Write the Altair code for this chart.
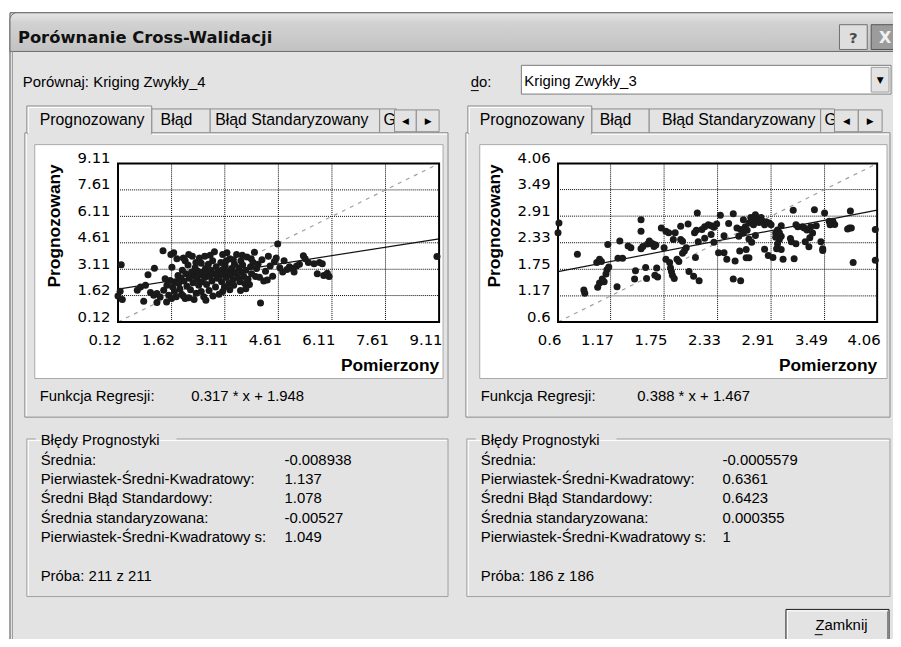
import altair as alt
import pandas as pd

# ---------------- data ----------------
title_text = "Porównanie Cross-Walidacji"
compare_label = "Porównaj:"
to_label = "do:"
left_model = "Kriging Zwykły_4"
right_model = "Kriging Zwykły_3"
tab_names = ["Prognozowany", "Błąd", "Błąd Standaryzowany", "G"]
x_title = "Pomierzony"
y_title = "Prognozowany"
reg_label = "Funkcja Regresji:"
group_label = "Błędy Prognostyki"
close_label = "Zamknij"

left_ticks = [0.12, 1.62, 3.11, 4.61, 6.11, 7.61, 9.11]
right_ticks = [0.6, 1.17, 1.75, 2.33, 2.91, 3.49, 4.06]
left_slope, left_intercept = 0.317, 1.948
right_slope, right_intercept = 0.388, 1.467

stat_names = ["Średnia:", "Pierwiastek-Średni-Kwadratowy:", "Średni Błąd Standardowy:",
              "Średnia standaryzowana:", "Pierwiastek-Średni-Kwadratowy s:"]
left_stats = ["-0.008938", "1.137", "1.078", "-0.00527", "1.049"]
right_stats = ["-0.0005579", "0.6361", "0.6423", "0.000355", "1"]
left_sample = "Próba: 211 z 211"
right_sample = "Próba: 186 z 186"

left_pts = [
    (0.12, 1.60), (0.24, 1.40), (0.21, 3.36), (0.18, 1.86), (0.66, 1.92), (0.75, 2.10),
    (0.89, 2.20), (0.84, 1.30), (0.96, 2.80), (1.14, 3.17), (1.03, 1.79), (1.12, 1.64),
    (1.21, 1.73), (1.21, 1.23), (1.30, 1.54), (1.38, 4.16), (1.40, 1.92), (1.44, 2.57),
    (1.49, 2.20), (1.54, 1.64), (1.48, 1.26), (1.60, 3.95), (1.68, 4.05), (1.77, 3.70),
    (1.63, 3.23), (1.58, 2.48), (1.65, 2.10), (1.72, 2.40), (1.80, 2.75), (1.85, 2.00),
    (1.90, 1.70), (1.95, 1.60), (2.00, 1.45), (1.70, 1.85), (1.62, 1.45), (1.75, 1.55),
    (1.82, 2.30), (1.88, 2.62), (1.92, 3.05), (1.97, 2.45), (2.02, 2.85), (2.05, 2.15),
    (2.08, 3.35), (2.12, 2.60), (2.15, 1.95), (2.18, 2.95), (2.20, 3.85), (2.22, 2.35),
    (2.26, 2.75), (2.28, 3.20), (2.31, 1.75), (2.33, 2.55), (2.36, 3.00), (2.38, 2.20),
    (2.40, 3.75), (2.42, 2.80), (2.45, 3.45), (2.47, 2.40), (2.50, 2.95), (2.52, 1.55),
    (2.55, 2.65), (2.57, 3.15), (2.60, 2.25), (2.62, 2.90), (2.65, 3.40), (2.67, 1.90),
    (2.70, 2.70), (2.72, 3.05), (2.75, 2.45), (2.77, 3.60), (2.80, 2.85), (2.82, 4.10),
    (2.85, 2.10), (2.87, 3.25), (2.90, 2.60), (2.92, 3.00), (2.95, 1.70), (2.97, 2.75),
    (3.00, 3.50), (3.02, 2.40), (3.05, 3.10), (3.07, 2.85), (3.10, 2.10), (3.12, 3.30),
    (3.15, 2.65), (3.17, 4.05), (3.20, 2.95), (3.22, 2.30), (3.25, 3.70), (3.28, 2.80),
    (3.30, 3.15), (3.33, 2.50), (3.36, 2.20), (3.38, 3.40), (3.41, 2.90), (3.44, 3.95),
    (3.47, 2.65), (3.50, 3.20), (3.53, 2.40), (3.56, 3.60), (3.58, 2.95), (3.61, 3.35),
    (3.64, 2.70), (3.67, 2.30), (3.70, 3.05), (3.73, 3.80), (3.76, 2.55), (3.80, 2.24),
    (3.83, 3.25), (3.86, 2.85), (3.90, 3.50), (3.94, 4.07), (3.97, 2.70), (4.00, 3.15),
    (4.04, 3.40), (4.08, 2.66), (4.11, 1.20), (4.15, 3.65), (4.20, 2.45), (4.25, 3.00),
    (4.30, 2.50), (4.33, 3.85), (4.38, 3.30), (4.45, 2.72), (4.50, 3.55), (4.55, 3.75),
    (4.59, 4.54), (4.65, 3.20), (4.73, 2.95), (4.77, 3.60), (4.85, 3.10), (4.92, 3.25),
    (5.00, 3.15), (5.05, 2.95), (5.12, 3.30), (5.20, 3.40), (5.31, 3.88), (5.36, 3.70),
    (5.45, 3.50), (5.61, 3.42), (5.70, 2.86), (5.76, 3.49), (5.84, 3.42), (5.88, 2.76),
    (5.98, 2.88), (6.03, 2.70), (9.05, 3.83),
    (2.10, 1.50), (2.25, 1.40), (2.45, 1.85), (2.58, 1.35), (2.78, 1.60), (3.05, 1.85),
    (3.25, 1.95), (3.55, 1.90), (3.70, 2.00), (2.30, 3.50), (2.55, 3.85), (2.70, 3.90),
    (3.05, 3.95), (3.15, 3.60), (3.35, 3.65), (3.60, 3.90), (3.85, 3.70), (2.00, 3.60),
    (2.10, 3.95), (1.95, 3.75),
]

right_pts = [
    (0.61, 2.76), (0.60, 2.55), (0.81, 2.08), (0.88, 1.30), (0.89, 1.23), (1.02, 1.90),
    (1.05, 1.97), (1.07, 1.92), (1.03, 1.36), (1.05, 1.45), (1.08, 1.54), (1.10, 1.48),
    (1.14, 2.29), (1.13, 1.74), (1.12, 1.65), (1.15, 1.80), (1.24, 1.37), (1.27, 2.37),
    (1.25, 1.99), (1.30, 1.99), (1.36, 2.26), (1.39, 2.22), (1.43, 1.54), (1.44, 1.72),
    (1.50, 2.20), (1.52, 2.25), (1.50, 2.83), (1.50, 2.58), (1.55, 1.79), (1.56, 1.55),
    (1.57, 2.30), (1.59, 2.37), (1.61, 2.32), (1.63, 2.30), (1.64, 2.25), (1.66, 2.28),
    (1.65, 1.62), (1.68, 1.58), (1.67, 1.78), (1.72, 2.65), (1.75, 2.22), (1.77, 2.58),
    (1.80, 2.55), (1.77, 1.97), (1.81, 1.90), (1.82, 1.78), (1.83, 1.70), (1.84, 1.62),
    (1.86, 1.55), (1.85, 2.40), (1.87, 2.55), (1.93, 2.69), (1.93, 2.40), (1.95, 2.36),
    (1.95, 2.10), (1.97, 2.15), (1.99, 2.22), (1.91, 1.92), (1.89, 1.97), (2.01, 2.74),
    (2.02, 1.70), (2.07, 1.60), (2.08, 2.55), (2.10, 2.60), (2.13, 1.50), (2.11, 2.98),
    (2.09, 2.01), (2.12, 2.35), (2.16, 2.62), (2.19, 2.68), (2.23, 2.72), (2.26, 2.70),
    (2.29, 2.67), (2.32, 2.74), (2.36, 2.93), (2.19, 2.43), (2.26, 2.51), (2.29, 2.34),
    (2.34, 2.11), (2.40, 2.11), (2.43, 1.97), (2.40, 2.48), (2.45, 2.75), (2.50, 2.96),
    (2.54, 2.65), (2.56, 2.47), (2.58, 2.62), (2.61, 2.54), (2.50, 1.54), (2.58, 1.50),
    (2.52, 1.93), (2.57, 2.15), (2.61, 2.83), (2.63, 2.68), (2.65, 2.60), (2.67, 2.76),
    (2.69, 2.88), (2.71, 2.79), (2.72, 2.72), (2.74, 2.94), (2.76, 2.83), (2.78, 2.77),
    (2.80, 2.88), (2.82, 2.80), (2.84, 2.72), (2.86, 2.78), (2.64, 2.00), (2.67, 2.00),
    (2.64, 2.18), (2.67, 2.41), (2.70, 2.34), (2.74, 2.49), (2.84, 2.19), (2.89, 2.76),
    (2.91, 2.72), (2.93, 2.01), (2.96, 2.54), (2.98, 2.61), (3.00, 2.40), (3.02, 2.47),
    (3.02, 2.18), (3.04, 1.97), (3.15, 3.04), (3.20, 2.68), (3.13, 2.35), (3.18, 2.31),
    (3.25, 2.68), (3.27, 2.65), (3.28, 2.35), (3.30, 2.61), (3.32, 2.24), (3.34, 2.68),
    (3.36, 2.54), (3.38, 3.05), (3.45, 2.35), (3.47, 2.20), (3.49, 2.98), (3.54, 2.80),
    (3.58, 2.80), (3.60, 2.73), (3.76, 2.65), (3.78, 2.65), (3.77, 3.02), (3.80, 1.90),
    (4.04, 2.62), (4.04, 1.95), (2.96, 2.45), (2.98, 2.30), (3.00, 2.55), (3.02, 2.70),
    (2.97, 2.20), (3.12, 2.42), (3.33, 2.44), (3.47, 2.16), (3.18, 2.72), (3.40, 2.70),
    (3.55, 2.72), (2.88, 2.05), (3.16, 1.98), (3.74, 2.63),
]

# ---------------- layout (page pixels) ----------------
OFF = 8
W, H = 893, 631
BODY = "#e3e3e3"
EDGE = "#8c8c8c"
PX = alt.Scale(domain=[0, 901], range=[-OFF, 901 - OFF], nice=False, zero=False)
PY = alt.Scale(domain=[0, 647], range=[-OFF, 647 - OFF], nice=False, zero=False)
BODY_FONT = "Liberation Sans"

PLOT_TOP, PLOT_BOTTOM = 162, 322
LEFT_PLOT = (119, 443)
RIGHT_PLOT = (563, 885)


def rects(rows, **mk):
    df = pd.DataFrame(rows, columns=["x1", "y1", "x2", "y2", "fill", "stroke"])
    return alt.Chart(df).mark_rect(**mk).encode(
        x=alt.X("x1:Q", scale=PX, axis=None), x2="x2:Q",
        y=alt.Y("y1:Q", scale=PY, axis=None), y2="y2:Q",
        fill=alt.Fill("fill:N", scale=None, legend=None),
        stroke=alt.Stroke("stroke:N", scale=None, legend=None),
    )


def rules(rows, width=1):
    df = pd.DataFrame(rows, columns=["x1", "y1", "x2", "y2", "c"])
    return alt.Chart(df).mark_rule(strokeWidth=width).encode(
        x=alt.X("x1:Q", scale=PX, axis=None), x2="x2:Q",
        y=alt.Y("y1:Q", scale=PY, axis=None), y2="y2:Q",
        color=alt.Color("c:N", scale=None, legend=None),
    )


def texts(rows, **mk):
    df = pd.DataFrame(rows, columns=["x", "y", "t"])
    return alt.Chart(df).mark_text(**mk).encode(
        x=alt.X("x:Q", scale=PX, axis=None),
        y=alt.Y("y:Q", scale=PY, axis=None),
        text="t:N",
    )


def panel(pts, ticks, slope, intercept, xr):
    lo, hi = ticks[0], ticks[-1]
    sx = alt.Scale(domain=[lo, hi], range=[xr[0] - OFF, xr[1] - OFF], nice=False, zero=False)
    sy = alt.Scale(domain=[lo, hi], range=[PLOT_BOTTOM - OFF, PLOT_TOP - OFF], nice=False, zero=False)
    inner = pd.DataFrame({"v": ticks[1:-1], "lo": lo, "hi": hi})
    grid_style = dict(strokeDash=[1, 1], color="#000000", strokeWidth=1)
    vgrid = alt.Chart(inner).mark_rule(**grid_style).encode(
        x=alt.X("v:Q", scale=sx, axis=None),
        y=alt.Y("lo:Q", scale=sy, axis=None), y2="hi:Q")
    hgrid = alt.Chart(inner).mark_rule(**grid_style).encode(
        y=alt.Y("v:Q", scale=sy, axis=None),
        x=alt.X("lo:Q", scale=sx, axis=None), x2="hi:Q")
    ends = pd.DataFrame({"a": [lo, hi]})
    diag = alt.Chart(ends).mark_line(strokeDash=[4, 5], color="#a0a0a0", strokeWidth=1.2).encode(
        x=alt.X("a:Q", scale=sx, axis=None), y=alt.Y("a:Q", scale=sy, axis=None))
    reg = alt.Chart(ends).transform_calculate(
        b=f"{slope} * datum.a + {intercept}"
    ).mark_line(color="#111111", strokeWidth=1.2).encode(
        x=alt.X("a:Q", scale=sx, axis=None), y=alt.Y("b:Q", scale=sy, axis=None))
    frame = alt.Chart(pd.DataFrame({"lo": [lo], "hi": [hi]})).mark_rect(
        filled=False, stroke="#000000", strokeWidth=2).encode(
        x=alt.X("lo:Q", scale=sx, axis=None), x2="hi:Q",
        y=alt.Y("lo:Q", scale=sy, axis=None), y2="hi:Q")
    df = pd.DataFrame(pts, columns=["x", "y"])
    common = dict(values=ticks, format=".2~f", domain=False, ticks=False, tickSize=0,
                  grid=False, labelFont="DejaVu Sans", labelFontSize=15, labelColor="#000000",
                  labelFlush=False, labelOverlap=False, labelBound=False, title=None, zindex=2)
    points = alt.Chart(df).mark_circle(size=50, color="#1a1a1a", opacity=1).encode(
        x=alt.X("x:Q", scale=sx, axis=alt.Axis(
            orient="bottom", offset=(PLOT_BOTTOM - OFF) - H, labelPadding=11,
            labelAlign="right", labelOffset=3, **common)),
        y=alt.Y("y:Q", scale=sy, axis=alt.Axis(
            orient="left", offset=-(xr[0] - OFF), labelPadding=8,
            labelAlign="right", labelBaseline="middle", labelOffset=-6, **common)),
    )
    return [vgrid, hgrid, diag, reg, frame, points]


layers = []

# window body
layers.append(rects([(10, 10, 920, 700, BODY, "#505050")]))
# title bar
title_df = pd.DataFrame([{"x1": 10, "y1": 10, "x2": 920, "y2": 49}])
layers.append(alt.Chart(title_df).mark_rect(
    cornerRadiusTopLeft=7, cornerRadiusTopRight=7,
    fill=alt.Gradient(gradient="linear", x1=0, x2=0, y1=0, y2=1, stops=[
        alt.GradientStop(offset=0, color="#e6e6e6"),
        alt.GradientStop(offset=0.25, color="#d2d2d2"),
        alt.GradientStop(offset=1, color="#c2c2c2")]),
    stroke="#6a6a6a").encode(
    x=alt.X("x1:Q", scale=PX, axis=None), x2="x2:Q",
    y=alt.Y("y1:Q", scale=PY, axis=None), y2="y2:Q"))

layers.append(rects([
    (847, 22, 875, 47, "#dedede", "#6e6e6e"),
    (879, 22, 910, 47, "#9c9c9c", "#555555"),
    (526, 63, 899, 92, "#ffffff", "#7a7a7a"),
    (879, 65, 897, 90, BODY, "#9a9a9a"),
    (25, 131, 452, 418, BODY, EDGE),
    (470, 131, 898, 418, BODY, EDGE),
    (153, 107, 212, 131, BODY, EDGE),
    (212, 107, 383, 131, BODY, EDGE),
    (383, 107, 400, 131, BODY, EDGE),
    (597, 107, 655, 131, BODY, EDGE),
    (655, 107, 828, 131, BODY, EDGE),
    (828, 107, 842, 131, BODY, EDGE),
    (27, 104, 153, 132, BODY, EDGE),
    (472, 104, 597, 132, BODY, EDGE),
    (28, 129, 152, 134, BODY, "transparent"),
    (473, 129, 596, 134, BODY, "transparent"),
    (35, 143, 447, 379, "#ffffff", "#a8a8a8"),
    (484, 143, 895, 379, "#ffffff", "#a8a8a8"),
    (27, 440, 452, 599, "transparent", "#a0a0a0"),
    (471, 440, 898, 599, "transparent", "#a0a0a0"),
    (36, 432, 178, 450, BODY, "transparent"),
    (480, 432, 622, 450, BODY, "transparent"),
    (793, 612, 897, 644, BODY, "#1a1a1a"),
]))

# 3D highlights
layers.append(rules([
    (26, 132.5, 27, 132.5, "#ffffff"), (153, 132.5, 451, 132.5, "#ffffff"),
    (26.5, 132, 26.5, 417, "#ffffff"),
    (471, 132.5, 472, 132.5, "#ffffff"), (597, 132.5, 897, 132.5, "#ffffff"),
    (471.5, 132, 471.5, 417, "#ffffff"),
    (28.5, 105, 28.5, 131, "#ffffff"), (28, 105.5, 152, 105.5, "#ffffff"),
    (473.5, 105, 473.5, 131, "#ffffff"), (473, 105.5, 596, 105.5, "#ffffff"),
    (28, 441.5, 451, 441.5, "#ffffff"), (28.5, 441, 28.5, 598, "#ffffff"),
    (472, 441.5, 897, 441.5, "#ffffff"), (472.5, 441, 472.5, 598, "#ffffff"),
    (794, 613.5, 895, 613.5, "#ffffff"), (794.5, 613, 794.5, 642, "#ffffff"),
    (795, 642.5, 896, 642.5, "#808080"), (895.5, 614, 895.5, 642, "#808080"),
    (12.5, 49, 12.5, 660, "#9a9a9a"),
    (475, 88.5, 483, 88.5, "#000000"),
    (822, 637.5, 830, 637.5, "#000000"),
]))

# scatter panels
layers += panel(left_pts, left_ticks, left_slope, left_intercept, LEFT_PLOT)
layers += panel(right_pts, right_ticks, right_slope, right_intercept, RIGHT_PLOT)

# body texts
body_rows = [
    (23, 80, compare_label), (94, 80, left_model), (475, 80, to_label), (529, 79, right_model),
    (40, 397, reg_label), (193, 397, f"{left_slope} * x + {left_intercept}"),
    (485, 397, reg_label), (643, 397, f"{right_slope} * x + {right_intercept}"),
    (41, 441, group_label), (485, 441, group_label),
    (41, 578, left_sample), (485, 578, right_sample),
]
stat_y = [461, 480, 500, 520, 539]
for i, y in enumerate(stat_y):
    body_rows.append((41, y, stat_names[i]))
    body_rows.append((287, y, left_stats[i]))
    body_rows.append((485, y, stat_names[i]))
    body_rows.append((729, y, right_stats[i]))
layers.append(texts(body_rows, align="left", baseline="middle", font=BODY_FONT,
                    fontSize=15, color="#000000"))

tab_rows = [
    (40, 118, tab_names[0]), (162, 118, tab_names[1]), (217, 118, tab_names[2]), (387, 118, tab_names[3]),
    (484, 118, tab_names[0]), (605, 118, tab_names[1]), (668, 118, tab_names[2]), (832, 118, tab_names[3]),
]
layers.append(texts(tab_rows, align="left", baseline="middle", font=BODY_FONT,
                    fontSize=16, color="#000000"))

layers.append(texts([(849, 628, close_label)], align="center", baseline="middle",
                    font=BODY_FONT, fontSize=15, color="#000000"))
layers.append(texts([(18, 35, title_text)], align="left", baseline="middle",
                    font="DejaVu Sans", fontSize=16.5, fontWeight="bold", color="#101010"))
layers.append(texts([(861, 35, "?")], align="center", baseline="middle",
                    font="DejaVu Sans", fontSize=15, fontWeight="bold", color="#4a4a4a"))
layers.append(texts([(893, 35, "X")], align="center", baseline="middle",
                    font="DejaVu Sans", fontSize=16, fontWeight="bold", color="#f2f2f2"))
layers.append(texts([(LEFT_PLOT[1], 366, x_title), (RIGHT_PLOT[1], 366, x_title)],
                    align="right", baseline="middle", font=BODY_FONT, fontSize=17.5,
                    fontWeight="bold", color="#000000"))
layers.append(texts([(55, 225, y_title), (499, 225, y_title)],
                    align="center", baseline="middle", font=BODY_FONT, fontSize=17.5,
                    fontWeight="bold", angle=270, color="#000000"))

# tab scroll buttons (cover the clipped tab label)
layers.append(rects([
    (398, 108, 420, 130, BODY, EDGE), (420, 108, 443, 130, BODY, EDGE),
    (842, 108, 866, 130, BODY, EDGE), (866, 108, 890, 130, BODY, EDGE),
]))
layers.append(texts([(409, 119, "◀"), (432, 119, "▶"), (854, 119, "◀"), (878, 119, "▶"),
                     (888, 78, "▼")],
                    align="center", baseline="middle", font="DejaVu Sans", fontSize=9,
                    color="#000000"))

chart = alt.layer(*layers).resolve_scale(
    x="independent", y="independent"
).properties(
    width=W, height=H, padding=0, autosize=alt.AutoSizeParams(type="none"),
    background="#ffffff",
).configure_view(stroke=None)

chart.save("out.html", embed_options={"renderer": "svg", "actions": False})
